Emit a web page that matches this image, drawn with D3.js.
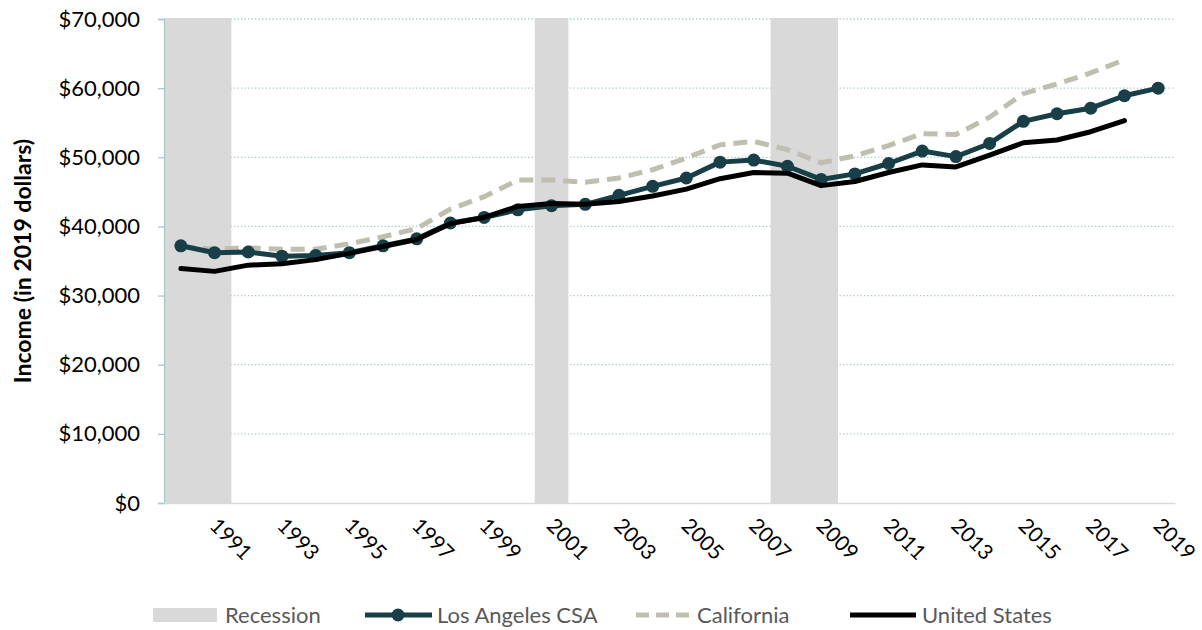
<!DOCTYPE html>
<html>
<head>
<meta charset="utf-8">
<script src="https://cdn.jsdelivr.net/npm/d3@7"></script>
<style>
  body { margin: 0; background: #fff; }
  text { font-family: Lato, "Open Sans", sans-serif; }
</style>
</head>
<body>
<div id="chart"></div>
<script>
// VARIABLES
const width = 1202;
const height = 630;
const margin = {top: 19, right: 27, bottom: 127, left: 164};

// data
const years = d3.range(1990, 2020);
const tickYears = d3.range(1991, 2020, 2);
const recessions = [[1990, 1991], [2001, 2001], [2008, 2009]];

const laCSA = [37200, 36200, 36300, 35700, 35800, 36200, 37200, 38200, 40500, 41300,
    42400, 43000, 43200, 44500, 45800, 47000, 49300, 49600, 48700, 46800,
    47600, 49100, 50900, 50100, 52000, 55200, 56300, 57100, 58900, 60000];
const california = [37100, 36700, 36900, 36700, 36700, 37500, 38500, 39700, 42500, 44300,
    46700, 46700, 46400, 47000, 48200, 49900, 51800, 52300, 51100, 49200,
    50200, 51700, 53400, 53300, 55800, 59200, 60600, 62200, 64100, null];
const unitedStates = [33900, 33500, 34400, 34600, 35200, 36100, 37100, 38100, 40400, 41300,
    42900, 43300, 43200, 43600, 44400, 45400, 46900, 47800, 47700, 45900,
    46500, 47800, 48900, 48600, 50300, 52100, 52500, 53700, 55300, null];

const yTicks = [0, 10000, 20000, 30000, 40000, 50000, 60000, 70000];

// colors
const colLA = "#183f48";
const colCA = "#bfbeb0";
const colUS = "#000000";
const colRec = "#d9d9d9";
const colGrid = "#a9c9c9";

const svg = d3.select("#chart")
    .append("svg")
        .attr("width", width)
        .attr("height", height);

const x = d3.scaleBand()
    .domain(years)
    .range([margin.left, width - margin.right]);

const y = d3.scaleLinear()
    .domain([0, 70000])
    .range([height - margin.bottom, margin.top]);

const cx = yr => x(yr) + x.bandwidth() / 2;

// gridlines (dotted)
svg.append("g")
    .selectAll("line")
    .data(yTicks.slice(1))
    .enter()
    .append("line")
        .attr("x1", margin.left)
        .attr("x2", width - margin.right)
        .attr("y1", d => y(d))
        .attr("y2", d => y(d))
        .attr("stroke", colGrid)
        .attr("stroke-width", 1.3)
        .attr("stroke-dasharray", "1.3,2.2");

// recession bands (drawn over the grid)
svg.append("g")
    .selectAll("rect")
    .data(recessions)
    .enter()
    .append("rect")
        .attr("x", d => x(d[0]))
        .attr("y", y(70000) - 1)
        .attr("width", d => x(d[1]) + x.bandwidth() - x(d[0]))
        .attr("height", y(0) - y(70000) + 1)
        .attr("fill", colRec);

// y axis
const yAxis = svg.append("g")
    .attr("transform", `translate(${margin.left},0)`)
    .call(d3.axisLeft(y)
        .tickValues(yTicks)
        .tickSize(6)
        .tickPadding(18)
        .tickFormat(d => "$" + d3.format(",")(d)));
yAxis.select(".domain").attr("stroke", colGrid).attr("stroke-width", 1.3);
yAxis.selectAll(".tick line").attr("stroke", colGrid).attr("stroke-width", 1.3);
yAxis.selectAll(".tick text")
    .attr("font-size", 22)
    .attr("fill", "#000");

// x axis
const xAxis = svg.append("g")
    .attr("transform", `translate(0,${y(0)})`)
    .call(d3.axisBottom(x).tickValues(tickYears).tickSize(0).tickPadding(0));
xAxis.select(".domain").attr("stroke", colRec).attr("stroke-width", 1.5);
xAxis.selectAll(".tick text")
    .attr("font-size", 21)
    .attr("fill", "#000")
    .attr("text-anchor", "start")
    .attr("dy", 0)
    .attr("transform", "translate(-6,24) rotate(45)");

// y title
svg.append("text")
    .attr("transform", `translate(31,${y(35000)}) rotate(-90)`)
    .attr("text-anchor", "middle")
    .attr("font-size", 23)
    .attr("font-weight", "bold")
    .attr("fill", "#000")
    .text("Income (in 2019 dollars)");

// lines
const line = d3.line()
    .defined(d => d.v != null)
    .x(d => cx(d.yr))
    .y(d => y(d.v));

function series(vals) {
    return years.map((yr, i) => ({yr: yr, v: vals[i]}));
}

svg.append("path")
    .datum(series(california))
    .attr("d", line)
    .attr("fill", "none")
    .attr("stroke", colCA)
    .attr("stroke-width", 5)
    .attr("stroke-dasharray", "14,8");

svg.append("path")
    .datum(series(laCSA))
    .attr("d", line)
    .attr("fill", "none")
    .attr("stroke", colLA)
    .attr("stroke-width", 5)
    .attr("stroke-linejoin", "round");

svg.append("g")
    .selectAll("circle")
    .data(series(laCSA))
    .enter()
    .append("circle")
        .attr("cx", d => cx(d.yr))
        .attr("cy", d => y(d.v))
        .attr("r", 6.5)
        .attr("fill", colLA);

svg.append("path")
    .datum(series(unitedStates))
    .attr("d", line)
    .attr("fill", "none")
    .attr("stroke", colUS)
    .attr("stroke-width", 5)
    .attr("stroke-linejoin", "round")
    .attr("stroke-linecap", "round");

// legend
const legY = 615;
const leg = svg.append("g").attr("font-size", 22).attr("fill", "#595959");

leg.append("rect")
    .attr("x", 153).attr("y", legY - 7).attr("width", 64).attr("height", 14)
    .attr("fill", colRec);
leg.append("text").attr("x", 225).attr("y", legY + 8).text("Recession");

leg.append("line")
    .attr("x1", 365).attr("x2", 432).attr("y1", legY).attr("y2", legY)
    .attr("stroke", colLA).attr("stroke-width", 5);
leg.append("circle").attr("cx", 398).attr("cy", legY).attr("r", 6.5).attr("fill", colLA);
leg.append("text").attr("x", 437).attr("y", legY + 8).text("Los Angeles CSA");

leg.append("line")
    .attr("x1", 636).attr("x2", 690).attr("y1", legY).attr("y2", legY)
    .attr("stroke", colCA).attr("stroke-width", 5).attr("stroke-dasharray", "13,7");
leg.append("text").attr("x", 697).attr("y", legY + 8).text("California");

leg.append("line")
    .attr("x1", 850).attr("x2", 916).attr("y1", legY).attr("y2", legY)
    .attr("stroke", colUS).attr("stroke-width", 5);
leg.append("text").attr("x", 922).attr("y", legY + 8).text("United States");
</script>
</body>
</html>
